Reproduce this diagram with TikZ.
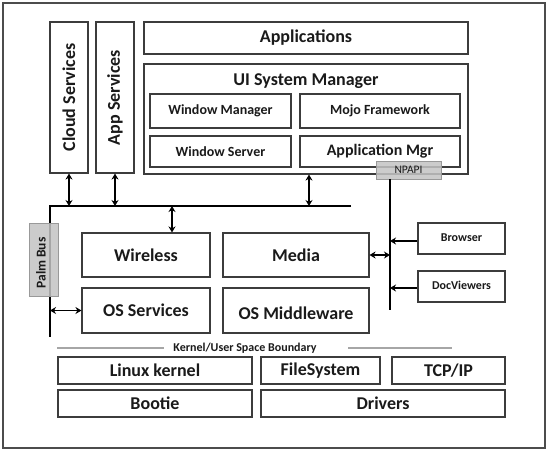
\documentclass[tikz,border=0pt]{standalone}
\usepackage{fontspec}
\setmainfont{Carlito}
\usetikzlibrary{arrows.meta}
\definecolor{boxline}{HTML}{3C3C3C}
\definecolor{txt}{HTML}{1A1A1A}
\definecolor{tagfill}{HTML}{C4C4C4}
\begin{document}
\begin{tikzpicture}[x=1pt,y=-1pt,
  box/.style={draw=boxline,line width=1.1pt,fill=white,inner sep=0pt,text=txt,font=\bfseries\fontsize{18}{20}\selectfont},
  midbox/.style={box,font=\bfseries\fontsize{14}{16}\selectfont},
  smallbox/.style={box,font=\bfseries\fontsize{12}{13}\selectfont},
  tag/.style={draw=gray!80,line width=0.8pt,fill=tagfill,fill opacity=0.85,inner sep=0pt},
  tagtext/.style={inner sep=0pt,text=txt},
  bus/.style={line width=2pt,black},
  link/.style={line width=1.4pt,black,{Stealth[length=6pt,width=7pt]}-{Stealth[length=6pt,width=7pt]}},
  onelink/.style={line width=1.4pt,black,-{Stealth[length=6pt,width=7pt]}},
  bound/.style={line width=1.2pt,gray!70}]
\useasboundingbox (0,0) rectangle (549,451);
\fill[white] (0,0) rectangle (549,451);
\draw[line width=1.4pt,gray!60!black] (3,3) rectangle (545,448);

% upper boxes
\node[box,rotate=90,minimum width=151pt,minimum height=38pt] (cloud) at (69,97.5) {Cloud Services};
\node[box,rotate=90,minimum width=151pt,minimum height=38pt] (appsvc) at (115,97.5) {App Services};
\node[box,minimum width=324pt,minimum height=32pt] (apps) at (306,38) {Applications};
\node[box,minimum width=324pt,minimum height=110pt] (ui) at (306,119) {};
\node[text=txt,font=\bfseries\fontsize{18}{20}\selectfont,inner sep=0pt] (uititle) at (306,81) {UI System Manager};
\node[midbox,minimum width=141pt,minimum height=34pt] (wm) at (220.5,111) {Window Manager};
\node[midbox,minimum width=160pt,minimum height=34pt] (mojo) at (380,111) {Mojo Framework};
\node[midbox,minimum width=141pt,minimum height=31pt] (ws) at (220.5,151.5) {Window Server};
\node[box,font=\bfseries\fontsize{16}{18}\selectfont,minimum width=160pt,minimum height=31pt] (appmgr) at (380,151.5) {Application Mgr};

% bus coordinates
\coordinate (busL) at (50,206);
\coordinate (busR) at (351,206);
\coordinate (busB) at (50,337);
\coordinate (npB) at (390,310);

\draw[bus] (busR) -- (busL) -- (busB);

% NPAPI tag and its line
\node[tag,minimum width=65pt,minimum height=18pt] (npapi) at (408.5,170) {};
\node[tagtext,font=\fontsize{11.5}{12}\selectfont] (npapit) at (408.5,170) {NPAPI};
\draw[bus] (npapi.south -| npB) -- (npB);

% middle boxes
\node[box,minimum width=128pt,minimum height=44pt] (wireless) at (146,255) {Wireless};
\node[box,minimum width=146pt,minimum height=44pt] (media) at (296,255) {Media};
\node[box,minimum width=128pt,minimum height=45pt] (ossvc) at (146,310.5) {OS Services};
\node[box,minimum width=146pt,minimum height=45pt] (osmw) at (296,310.5) {};
\node[text=txt,font=\bfseries\fontsize{18}{20}\selectfont,inner sep=0pt] (osmwt) at (296,313) {OS Middleware};

\node[smallbox,minimum width=87pt,minimum height=31pt] (browser) at (461.5,238.5) {\raisebox{2pt}{Browser}};
\node[smallbox,minimum width=87pt,minimum height=31pt] (docv) at (461.5,286.5) {\raisebox{2pt}{DocViewers}};

% Palm Bus tag
\node[tag,minimum width=29pt,minimum height=73pt] (palm) at (43.5,259.5) {};
\node[tagtext,rotate=90,font=\bfseries\fontsize{13.5}{15}\selectfont] (palmt) at (41,263) {Palm Bus};

% arrows
\draw[link] (cloud.west) -- (cloud.west |- busL);
\draw[link] (appsvc.west) -- (appsvc.west |- busL);
\draw[link] ([xshift=3pt]ui.south) -- ([xshift=3pt]ui.south |- busL);
\draw[link] (wireless.north -| 172,0) -- (172,206);
\draw[link] (ossvc.west) -- (ossvc.west -| busB);
\draw[link] (media.east) -- (media.east -| npB);
\draw[onelink] ([yshift=-2.5pt]browser.west) -- ([yshift=-2.5pt]browser.west -| npB);
\draw[onelink] ([yshift=-1.5pt]docv.west) -- ([yshift=-1.5pt]docv.west -| npB);

% kernel boundary
\node[text=txt,font=\bfseries\fontsize{12}{13}\selectfont,inner sep=0pt] (kb) at (245,348) {Kernel/User Space Boundary};
\coordinate (kl1) at (57,348);
\coordinate (kl2) at (164,348);
\coordinate (kr1) at (348,348);
\coordinate (kr2) at (452,348);
\draw[bound] (kl1) -- (kl2);
\draw[bound] (kr1) -- (kr2);

% lower boxes
\node[box,minimum width=194pt,minimum height=27pt] (linux) at (155,370.5) {Linux kernel};
\node[box,minimum width=119pt,minimum height=27pt] (fs) at (320.5,370.5) {FileSystem};
\node[box,minimum width=113pt,minimum height=27pt] (tcp) at (448.5,370.5) {TCP/IP};
\node[box,minimum width=194pt,minimum height=27pt] (bootie) at (155,403.5) {Bootie};
\node[box,minimum width=244pt,minimum height=27pt] (drivers) at (383,403.5) {Drivers};
\end{tikzpicture}
\end{document}
